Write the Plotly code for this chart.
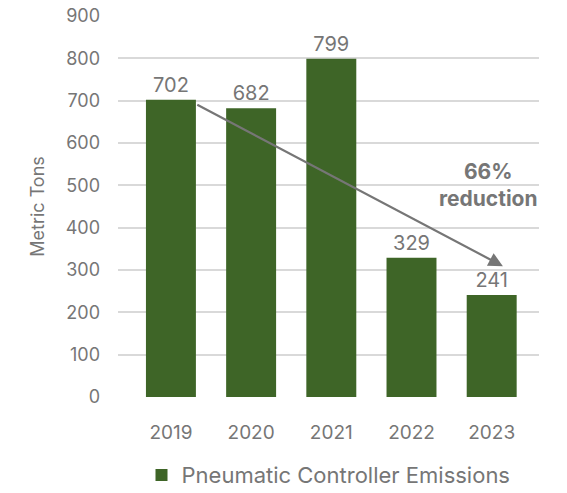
import plotly.graph_objects as go

# Annual pneumatic controller emissions (metric tons)
years = ["2019", "2020", "2021", "2022", "2023"]
emissions = [702, 682, 799, 329, 241]
y_ticks = [0, 100, 200, 300, 400, 500, 600, 700, 800, 900]

BAR_COLOR = "#3E6527"
TEXT_GRAY = "#767676"
FONT = "Inter, Roboto, Arial, sans-serif"

fig = go.Figure()
fig.add_trace(go.Bar(
    x=list(range(len(years))),
    y=emissions,
    name="Pneumatic Controller Emissions",
    marker=dict(color=BAR_COLOR, line=dict(width=0)),
    text=[str(v) for v in emissions],
    textposition="outside",
    textfont=dict(size=20, color=TEXT_GRAY, family=FONT),
    cliponaxis=False,
))

# Trend arrow from 2019 toward 2023
fig.add_annotation(
    x=4.14, y=309, ax=0.31, ay=692,
    xref="x", yref="y", axref="x", ayref="y",
    showarrow=True, arrowhead=2, arrowsize=1.3, arrowwidth=2.2,
    arrowcolor=TEXT_GRAY, text="",
)
fig.add_annotation(
    x=3.96, y=501, xref="x", yref="y",
    text="<b>66%<br>reduction</b>", showarrow=False,
    font=dict(size=21, color=TEXT_GRAY, family=FONT),
    align="center", xanchor="center", yanchor="middle",
)

fig.update_layout(
    width=567, height=493,
    margin=dict(l=118, r=28, t=16, b=96, autoexpand=False),
    paper_bgcolor="white", plot_bgcolor="white",
    font=dict(family=FONT, color=TEXT_GRAY),
    bargap=0.377,
    showlegend=True,
    legend=dict(
        orientation="h", x=0.5, xanchor="center",
        y=-0.205, yanchor="middle",
        font=dict(size=22, color=TEXT_GRAY, family=FONT),
    ),
    xaxis=dict(
        tickmode="array", tickvals=list(range(len(years))), ticktext=years,
        range=[-0.66, 4.59], showgrid=False, zeroline=False, showline=False,
        tickfont=dict(size=19, color=TEXT_GRAY), ticks="", ticklen=0,
        ticklabelstandoff=22,
    ),
    yaxis=dict(
        range=[0, 900], tickmode="array", tickvals=y_ticks,
        showgrid=True, gridcolor="#D9D9D9", gridwidth=1.5,
        zeroline=False, showline=False,
        tickfont=dict(size=18, color=TEXT_GRAY), ticks="", ticklen=0,
        ticklabelstandoff=17,
        title=dict(text="Metric Tons", font=dict(size=18, color=TEXT_GRAY), standoff=16),
    ),
)

fig.write_html("out.html")
